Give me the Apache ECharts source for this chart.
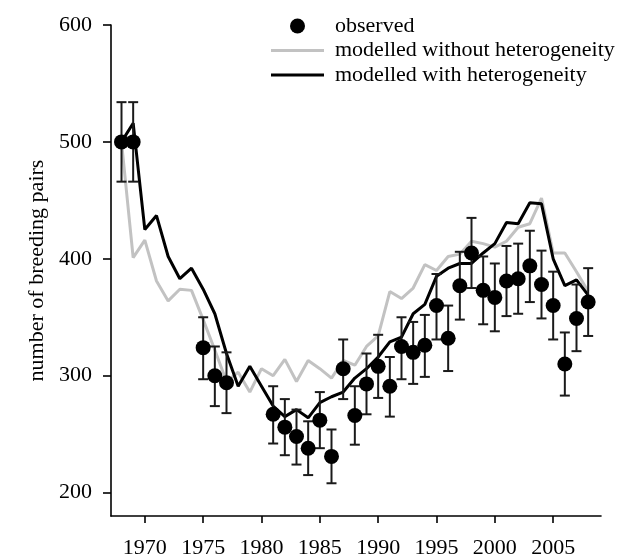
<!DOCTYPE html>
<html>
<head>
<meta charset="utf-8">
<script src="https://cdn.jsdelivr.net/npm/echarts@6/dist/echarts.min.js"></script>
<style>
html,body{margin:0;padding:0;background:#fff;}
#chart{width:631px;height:559px;}
</style>
</head>
<body>
<div id="chart"></div>
<script>
// ---- data ----
var modelYears = [1968,1969,1970,1971,1972,1973,1974,1975,1976,1977,1978,1979,1980,1981,1982,1983,1984,1985,1986,1987,1988,1989,1990,1991,1992,1993,1994,1995,1996,1997,1998,1999,2000,2001,2002,2003,2004,2005,2006,2007,2008];
var withHet = [500,516,425,437,402,383,392,374,353,319,291,308,291,274,265,271,264,277,282,286,298,306,316,329,333,353,361,385,392,396,396,405,413,431,430,448,447,400,377,382,369];
var withoutHet = [500,401,416,381,364,374,373,348,322,295,303,286,306,300,314,295,313,306,298,313,309,325,334,372,366,375,395,390,402,404,415,413,410,415,427,430,452,405,405,389,372];
var obsYears = [1968,1969,1975,1976,1977,1981,1982,1983,1984,1985,1986,1987,1988,1989,1990,1991,1992,1993,1994,1995,1996,1997,1998,1999,2000,2001,2002,2003,2004,2005,2006,2007,2008];
var obsValues = [500,500,324,300,294,267,256,248,238,262,231,306,266,293,308,291,325,320,326,360,332,377,405,373,367,381,383,394,378,360,310,349,363];
var obsLow = [466,466,297,274,268,242,232,224,215,238,208,280,241,267,281,265,297,293,299,331,304,348,375,344,338,351,353,363,349,331,283,321,334];
var obsHigh = [534,534,350,325,320,291,280,271,261,286,254,331,291,319,335,316,350,346,352,387,360,406,435,402,396,411,413,424,407,389,337,378,392];
var xTicks = [1970,1975,1980,1985,1990,1995,2000,2005];
var yTicks = [200,300,400,500,600];
var seriesNames = ['observed','modelled without heterogeneity','modelled with heterogeneity'];

// ---- build ----
var FONT = '"Liberation Serif", "DejaVu Serif", serif';
function pairs(xs, ys){ return xs.map(function(x,i){ return [x, ys[i]]; }); }
var errData = obsYears.map(function(y,i){ return [y, obsLow[i], obsHigh[i]]; });
var LINE_ICON = 'path://M0,0H53V3H0Z';

var chart = echarts.init(document.getElementById('chart'), null, {renderer:'canvas'});
chart.setOption({
  animation:false,
  backgroundColor:'#ffffff',
  grid:{left:111,right:30,top:25,bottom:43,containLabel:false,outerBoundsMode:'none'},
  legend:{
    orient:'vertical', left:271, top:15, padding:0,
    itemWidth:53, itemHeight:15, itemGap:2.5,
    textStyle:{fontFamily:FONT,fontSize:22,lineHeight:22,color:'#000',padding:[0,0,0,6]},
    data:[
      {name:seriesNames[0], icon:'circle'},
      {name:seriesNames[1], icon:LINE_ICON},
      {name:seriesNames[2], icon:LINE_ICON}
    ]
  },
  xAxis:{
    type:'value', min:1967.1, max:2009.1,
    splitLine:{show:false},
    axisLine:{show:true,lineStyle:{color:'#000',width:1.6}},
    axisTick:{show:true,length:7,lineStyle:{color:'#000',width:1.6},customValues:xTicks},
    axisLabel:{show:true,margin:21,fontFamily:FONT,fontSize:22,color:'#000',customValues:xTicks,formatter:function(v){return String(v);}}
  },
  yAxis:{
    type:'value', min:180, max:600,
    name:'number of breeding pairs', nameLocation:'middle', nameGap:62, nameRotate:90,
    nameTextStyle:{fontFamily:FONT,fontSize:22,color:'#000'},
    splitLine:{show:false},
    axisLine:{show:true,lineStyle:{color:'#000',width:1.6}},
    axisTick:{show:true,length:8,lineStyle:{color:'#000',width:1.6},customValues:yTicks},
    axisLabel:{show:true,margin:19,fontFamily:FONT,fontSize:22,color:'#000',customValues:yTicks}
  },
  series:[
    {
      name:seriesNames[1], type:'line', symbol:'none', z:2,
      data:pairs(modelYears, withoutHet),
      lineStyle:{color:'#c2c2c2',width:3}, itemStyle:{color:'#c2c2c2'}
    },
    {
      name:seriesNames[2], type:'line', symbol:'none', z:3,
      data:pairs(modelYears, withHet),
      lineStyle:{color:'#000',width:3}, itemStyle:{color:'#000'}
    },
    {
      name:'errors', type:'custom', z:4,
      data:errData,
      renderItem:function(params, api){
        var x = api.value(0);
        var lo = api.coord([x, api.value(1)]);
        var hi = api.coord([x, api.value(2)]);
        var hw = 5;
        var st = {stroke:'#1a1a1a', lineWidth:2};
        return {type:'group', children:[
          {type:'line', shape:{x1:lo[0],y1:lo[1],x2:hi[0],y2:hi[1]}, style:st},
          {type:'line', shape:{x1:lo[0]-hw,y1:lo[1],x2:lo[0]+hw,y2:lo[1]}, style:st},
          {type:'line', shape:{x1:hi[0]-hw,y1:hi[1],x2:hi[0]+hw,y2:hi[1]}, style:st}
        ]};
      }
    },
    {
      name:seriesNames[0], type:'scatter', z:5,
      symbol:'circle', symbolSize:15,
      data:pairs(obsYears, obsValues),
      itemStyle:{color:'#000',opacity:1}
    }
  ]
});
</script>
</body>
</html>
